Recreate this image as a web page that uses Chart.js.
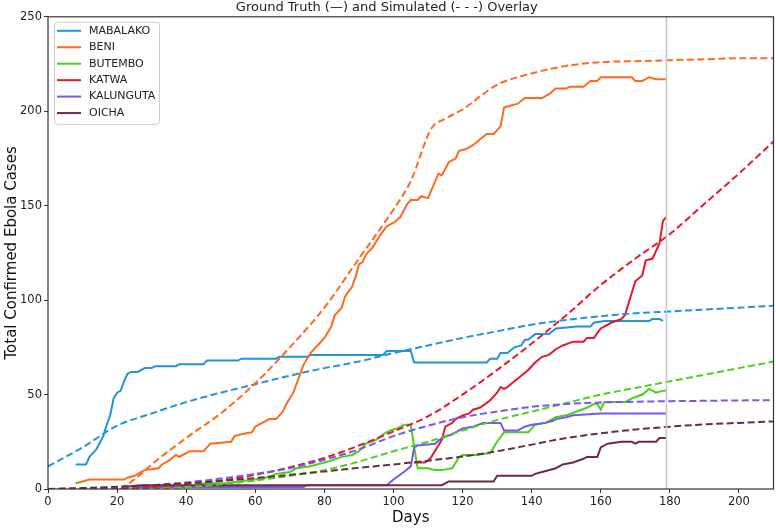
<!DOCTYPE html>
<html><head><meta charset="utf-8">
<script src="https://cdn.jsdelivr.net/npm/chart.js@4"></script>
<style>html,body{margin:0;padding:0;background:#fff}canvas{display:block}</style>
</head><body>
<canvas id="c" width="776" height="528" style="width:776px;height:528px"></canvas>
<script>
// ---------- DATA ----------
const regions = ['MABALAKO','BENI','BUTEMBO','KATWA','KALUNGUTA','OICHA'];
const colors  = ['#2393db','#ff6a1c','#45d418','#e8172c','#7757f2','#6b2d40'];

// Ground truth (solid)
const mabalakoDays  = [8,11,12,13,14,16,17,18,19,20,21,22,23,24,26,28,30,31,37,38,45,46,55,56,66,67,75,76,97,98,105,106,127,128,130,131,133,135,137,138,139,141,145,147,153,157,158,161,174,175,177,178];
const mabalakoCases = [13,13,17,19,21,28,34,39,48,51,52,57,61,62,62,64,64,65,65,66,66,68,68,69,69,70,70,71,71,73,73,67,67,69,69,72,72,75,76,79,79,82,82,85,86,86,88,89,89,90,90,89];

const beniDays  = [8,10,12,22,23,25,27,28,32,33,35,37,38,39,41,45,47,53,54,56,59,60,64,66,68,69,70,71,72,73,74,76,78,80,82,83,85,86,88,89,90,91,92,94,96,98,100,102,104,105,107,108,110,113,114,116,118,119,121,123,125,127,129,131,132,134,136,138,143,145,147,150,151,155,157,159,160,169,170,172,174,176,179];
const beniCases = [3,4,5,5,6,7,9,10,11,13,15,18,17,18,20,20,24,25,28,29,30,33,37,37,41,45,48,51,56,61,66,72,76,80,86,92,96,102,107,112,119,120,124,128,134,139,141,144,151,153,153,155,154,167,166,173,175,179,180,182,185,188,188,192,202,203,204,207,207,209,212,212,213,213,216,216,218,218,216,216,218,217,217];

const butemboDays  = [43,45,52,55,60,63,66,70,72,76,80,82,85,88,90,92,95,97,99,101,103,105,106,107,110,112,114,117,119,120,124,128,130,132,139,141,144,147,150,153,156,158,159,160,161,167,169,172,174,176,178,179];
const butemboCases = [1,3,3,4,5,6,8,9,11,12,14,15,17,18,20,24,26,29,31,32,34,34,22,11,11,10,10,11,17,18,18,19,25,30,30,34,35,38,39,41,43,45,45,42,46,46,48,50,53,51,52,52];

const katwaDays  = [106,109,110,111,113,114,115,117,118,120,122,123,125,128,130,131,132,133,135,137,139,141,143,145,147,149,152,155,156,158,160,163,166,167,170,172,173,175,177,178,179];
const katwaCases = [14,14,15,17,23,26,33,35,37,39,40,42,43,47,51,54,53,54,57,60,63,67,70,71,74,76,78,78,80,80,85,88,90,92,110,113,121,122,130,142,144];

const kalungutaDays  = [26,74,75,98,100,103,105,106,107,112,114,117,120,123,126,129,131,132,136,138,140,144,146,147,150,152,160,179];
const kalungutaCases = [1,1,2,2,5,9,12,22,23,24,27,29,32,33,35,35,35,31,31,33,34,35,36,37,38,39,40,40];

const oichaDays  = [22,27,114,116,129,130,140,141,143,147,149,152,155,156,159,160,162,166,169,170,171,176,177,179];
const oichaCases = [1,2,2,4,4,7,7,8,9,11,13,14,16,17,17,22,24,25,25,24,25,25,27,27];

// Simulated (dashed)
const simDays      = [0,10,20,30,40,50,60,70,80,90,100,110,120,130,140,150,160,170,180,190,200,210];
const simMabalako  = [12,22,33.5,40,46,51,55.5,60,64,67.5,72,76,80,83.5,87,89.5,91.5,93,94,95,96,97];
const simButembo   = [0,0,0,0.3,1,2.5,4.5,7,10,14.5,20,25,31,36.5,41,45.5,50,53.5,57,60.5,64,67.5];
const simKatwa     = [0,0.2,0.5,1,2.5,4.5,7.5,11.5,16.5,23,30.5,38.5,50,63,77,92,108,122,135,151,167,184];
const simKalunguta = [0,0.3,1,2,3.5,5.5,8,11,15.5,21,28,33.5,38,41,43.5,45,45.8,46.2,46.5,46.7,46.9,47];
const simOicha     = [0,0.5,1.2,2,3,4.3,5.8,7.5,9.3,11.2,13,15,17.2,20,23.5,27,29.5,31.5,33,34.2,35,35.8];
const simBeniDays  = [21,25,30,40,50,60,70,80,90,100,105,111,115,120,130,140,150,160,170,180,190,200,210];
const simBeni      = [0,5,13,27,40,56,75,96,122,148,163,191,196,201,214,220,224,226,226.5,227,227.5,228,228];

const cutoffDay = 179;
const xTicks = [0,20,40,60,80,100,120,140,160,180,200];
const yTicks = [0,50,100,150,200,250];

// ---------- BUILD ----------
const pts = (xs, ys) => xs.map((x,i)=>({x:x, y:ys[i]}));
const truth = [[mabalakoDays,mabalakoCases],[beniDays,beniCases],[butemboDays,butemboCases],[katwaDays,katwaCases],[kalungutaDays,kalungutaCases],[oichaDays,oichaCases]];
const sims  = [[simDays,simMabalako],[simBeniDays,simBeni],[simDays,simButembo],[simDays,simKatwa],[simDays,simKalunguta],[simDays,simOicha]];

const ordered = [];
truth.forEach((t,i)=>ordered.push({label:regions[i], data:pts(t[0],t[1]), borderColor:colors[i], borderWidth:2, tension:0}));
sims.forEach((s,i)=>ordered.push({label:regions[i]+' sim', data:pts(s[0],s[1]), borderColor:colors[i], borderWidth:2, borderDash:[7,3.5], cubicInterpolationMode:'monotone'}));
ordered.push({label:'cutoff', data:[{x:cutoffDay,y:yTicks[0]},{x:cutoffDay,y:yTicks[yTicks.length-1]}], borderColor:'#c8c8c8', borderWidth:1.6});
const N = ordered.length;
ordered.forEach((d,i)=>{ d.order = N - i; d.pointRadius = 0; d.fill = false; });

const FONT = '"DejaVu Sans", sans-serif';

const framePlugin = {
  id:'frame',
  afterDraw(chart){
    const {ctx, chartArea:a} = chart;
    ctx.save();
    ctx.strokeStyle = '#333'; ctx.lineWidth = 1.2;
    ctx.strokeRect(a.left, a.top, a.right-a.left, a.bottom-a.top);
    // legend
    const x0 = a.left + 6, y0 = a.top + 5, w = 105, h = 102;
    ctx.beginPath();
    if (ctx.roundRect) ctx.roundRect(x0+0.5, y0+0.5, w, h, 3); else ctx.rect(x0+0.5,y0+0.5,w,h);
    ctx.fillStyle = 'rgba(255,255,255,0.85)'; ctx.fill();
    ctx.strokeStyle = '#cccccc'; ctx.lineWidth = 1; ctx.stroke();
    ctx.font = '11px ' + FONT; ctx.textBaseline = 'middle'; ctx.textAlign = 'left';
    regions.forEach((name,i)=>{
      const y = y0 + 9 + i*16.45;
      ctx.strokeStyle = colors[i]; ctx.lineWidth = 2;
      ctx.beginPath(); ctx.moveTo(x0+3, y); ctx.lineTo(x0+27, y); ctx.stroke();
      ctx.fillStyle = '#222';
      ctx.fillText(name, x0+35, y);
    });
    ctx.restore();
  }
};

new Chart(document.getElementById('c'), {
  type:'line',
  data:{datasets:ordered},
  options:{
    responsive:false, animation:false, devicePixelRatio:1,
    layout:{padding:{left:0,right:2.5,top:0,bottom:0}},
    plugins:{
      legend:{display:false}, tooltip:{enabled:false},
      title:{display:true, text:'Ground Truth (—) and Simulated (- - -) Overlay', color:'#222',
        font:{family:FONT, size:13, weight:'normal'}, padding:{top:0,bottom:1.2}}
    },
    scales:{
      x:{type:'linear', min:0, max:210,
        afterBuildTicks:(s)=>{ s.ticks = xTicks.map(v=>({value:v})); },
        afterFit:(s)=>{ s.height = 39; },
        grid:{display:true, drawOnChartArea:false, drawTicks:true, tickLength:4, color:'#333'},
        border:{display:false},
        ticks:{color:'#222', font:{family:FONT,size:11.5}, padding:2, maxRotation:0},
        title:{display:true, text:'Days', color:'#111', font:{family:FONT,size:15}, padding:{top:0,bottom:1}}
      },
      y:{type:'linear', min:0, max:250,
        afterBuildTicks:(s)=>{ s.ticks = yTicks.map(v=>({value:v})); },
        afterFit:(s)=>{ s.width = 48; },
        grid:{display:true, drawOnChartArea:false, drawTicks:true, tickLength:4, color:'#333'},
        border:{display:false},
        ticks:{color:'#222', font:{family:FONT,size:11.5}, padding:2},
        title:{display:true, text:'Total Confirmed Ebola Cases', color:'#111', font:{family:FONT,size:15}, padding:{top:3,bottom:0}}
      }
    }
  },
  plugins:[framePlugin]
});
</script>
</body></html>
